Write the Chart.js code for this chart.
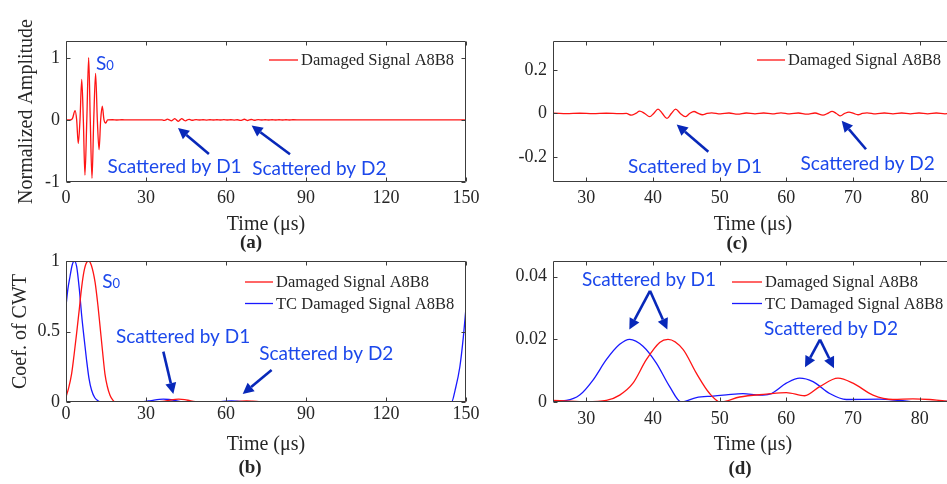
<!DOCTYPE html>
<html>
<head>
<meta charset="utf-8">
<script src="https://cdn.jsdelivr.net/npm/chart.js@4.4.1/dist/chart.umd.min.js"></script>
<style>
  html, body { margin: 0; padding: 0; background: #fff; overflow: hidden; }
  #wrap { position: relative; width: 947px; height: 484px; overflow: hidden; }
  canvas { position: absolute; left: 0; top: 0; }
</style>
</head>
<body>
<div id="wrap">
  <canvas id="chart-a" width="960" height="484"></canvas>
  <canvas id="chart-b" width="960" height="484"></canvas>
  <canvas id="chart-c" width="960" height="484"></canvas>
  <canvas id="chart-d" width="960" height="484"></canvas>
</div>
<script>
// raw signal (normalized amplitude vs time in us)
const rawTime = [
  0, 1.5, 2.4, 3.4, 4.0, 4.6, 5.25, 5.9, 6.5, 7.1, 7.8, 8.5, 9.1, 9.75, 10.4, 11.1, 11.75, 12.4, 13.0, 13.6,
  14.25, 14.9, 15.6, 17.5, 19, 21, 23, 25, 27, 29, 31, 33, 35, 36, 36.75, 37.4, 38, 38.75, 39.5, 40.1,
  40.75, 41.4, 42.1, 42.75, 43.4, 44.1, 44.85, 45.5, 46.15, 46.8, 47.4, 48.1, 48.8, 50.1, 51.4, 52.7, 54, 55.3, 56.6, 57.9,
  59.2, 60.5, 61.8, 63.1, 64.3, 65.5, 66.2, 66.85, 67.5, 68.1, 68.75, 69.4, 70.1, 70.75, 71.4, 72.1, 73.4, 74.7, 76, 77.3,
  78.6, 79.9, 81.2, 82.5, 83.8, 85.1, 88, 92, 96, 100, 105, 110, 115, 120, 125, 130, 135, 140, 145, 150,
];
const rawAmp = [
  0, 0, 0.02, 0.15, 0, -0.38, 0, 0.65, 0, -0.89, 0, 1.0, 0, -0.94, 0, 0.75, 0, -0.48, 0, 0.22,
  0, -0.05, 0, 0.002, -0.002, 0.002, -0.001, 0.001, -0.001, 0.001, -0.001, 0.001, -0.001, 0, -0.008, 0, 0.011, 0, -0.015, 0,
  0.02, 0, -0.023, 0, 0.02, 0, -0.015, 0, 0.009, 0, -0.006, 0, 0.003, -0.002, 0.002, -0.003, 0.002, -0.002, 0.002, -0.002,
  0.003, -0.002, 0.002, -0.003, 0.002, -0.008, 0, 0.01, 0, -0.011, 0, 0.006, 0, -0.006, 0, 0.003, -0.002, 0.002, -0.002, 0.002,
  -0.002, 0.002, -0.002, 0.002, -0.002, 0.002, -0.001, 0.001, -0.001, 0.001, -0.001, 0.001, -0.001, 0.001, -0.001, 0.001, -0.001, 0.001, 0, 0,
];

// CWT coefficient, damaged signal
const cwtRedTime = [
  0, 1, 2.1, 3, 4, 5, 5.6, 6.5, 7.5, 8.5, 9.5, 10.9, 12, 12.75, 13.7, 14.6, 15.5, 16.5, 17.5, 18.5,
  20, 22.5, 25, 30, 33, 35, 37, 39, 41, 42.25, 44.5, 46.5, 48.5, 50.1, 53, 57, 60, 62.75, 65, 67.75,
  70, 73, 76, 79, 81.5, 84, 87, 95, 110, 130, 140, 150,
];
const cwtRedCoef = [
  0.036, 0.1, 0.2, 0.33, 0.49, 0.66, 0.77, 0.9, 0.98, 1.0, 0.97, 0.85, 0.68, 0.54, 0.36, 0.2, 0.11, 0.048, 0.015, 0,
  0.0003, 0.0005, 0.0005, 0.0001, 0.0005, 0.0022, 0.006, 0.0135, 0.019, 0.02, 0.0168, 0.0092, 0.0027, 0, 0.0016, 0.0025, 0.003, 0.002, 0.0049, 0.0076,
  0.006, 0.0022, 0.0008, 0.001, 0.0008, 0.0003, 0.0003, 0.0002, 0.0001, 0.0001, 0, 0,
];

// CWT coefficient, time-compensated damaged signal
const cwtBlueTime = [
  0, 0.7, 1.5, 2.3, 3.1, 4, 5, 5.9, 6.8, 7.7, 8.6, 9.6, 10.8, 12.1, 13.4, 18, 22, 25, 27, 29,
  31, 33, 35, 36.5, 38.5, 40.5, 42.5, 44.25, 46.5, 49, 51, 53.5, 56, 57.5, 60, 62, 64, 66.5, 69, 74,
  77, 80, 84, 87, 100, 130, 144.6, 145.9, 147.7, 149, 150,
];
const cwtBlueCoef = [
  0.68, 0.8, 0.89, 0.97, 1.0, 0.96, 0.8, 0.61, 0.45, 0.3, 0.17, 0.083, 0.03, 0.007, 0, 0.0003, 0.0002, 0.0003, 0.0005, 0.0022,
  0.007, 0.0135, 0.0184, 0.02, 0.0178, 0.0124, 0.0049, 0, 0.0014, 0.0019, 0.0023, 0.0027, 0.0022, 0.0025, 0.006, 0.0076, 0.0065, 0.0027, 0.0008, 0.0009,
  0.0005, 0, 0.0002, 0.0002, 0.0001, 0.0001, 0, 0.083, 0.25, 0.46, 0.67,
];

const seriesLabels = ['Damaged Signal A8B8', 'TC Damaged Signal A8B8'];
const wideTicks = [0, 30, 60, 90, 120, 150];
const zoomTicks = [30, 40, 50, 60, 70, 80];
const ampTicks = [-1, 0, 1];
const ampZoomTicks = [-0.2, 0, 0.2];
const cwtTicks = [0, 0.5, 1];
const cwtZoomTicks = [0, 0.02, 0.04];

const CANVAS_W = 960;
const CANVAS_H = 484;
const RED = 'rgb(255, 20, 20)';
const BLUE = 'rgb(25, 25, 255)';
const INK = '#262626';
const NOTE = 'rgb(28, 72, 235)';
const ARROW = 'rgb(8, 40, 185)';
const SERIF = '"Liberation Serif", "Times New Roman", serif';

Chart.defaults.font.family = SERIF;
Chart.defaults.color = INK;

const zip = (xs, ys) => xs.map((x, i) => ({ x, y: ys[i] }));

function lineSet(label, xs, ys, color) {
  return {
    label,
    data: zip(xs, ys),
    borderColor: color,
    borderWidth: 1.3,
    pointRadius: 0,
    fill: false,
    cubicInterpolationMode: 'monotone',
  };
}

function drawArrow(ctx, x0, y0, x1, y1) {
  const ang = Math.atan2(y1 - y0, x1 - x0);
  const hl = 11, hw = 5.5;
  const bx = x1 - hl * Math.cos(ang);
  const by = y1 - hl * Math.sin(ang);
  ctx.beginPath();
  ctx.moveTo(x0, y0);
  ctx.lineTo(bx, by);
  ctx.stroke();
  ctx.beginPath();
  ctx.moveTo(x1, y1);
  ctx.lineTo(bx + hw * Math.sin(ang), by - hw * Math.cos(ang));
  ctx.lineTo(bx - hw * Math.sin(ang), by + hw * Math.cos(ang));
  ctx.closePath();
  ctx.fill();
}

// box with inward ticks, legend, blue notes, arrows and panel tag
const panelDecor = {
  id: 'panelDecor',
  afterDraw(chart, args, opts) {
    const { ctx, chartArea: a, scales: { x, y } } = chart;
    const px = (t) => x.getPixelForValue(t);
    const py = (v) => y.getPixelForValue(v);
    ctx.save();

    const L = Math.round(a.left) + 0.5, R = Math.round(a.right) - 0.5;
    const T = Math.round(a.top) + 0.5, B = Math.round(a.bottom) - 0.5;
    ctx.strokeStyle = '#3c3c3c';
    ctx.lineWidth = 1;
    ctx.beginPath();
    ctx.rect(L, T, R - L, B - T);
    x.ticks.forEach((tk) => {
      const p = Math.round(px(tk.value)) + 0.5;
      ctx.moveTo(p, B); ctx.lineTo(p, B - 4);
      ctx.moveTo(p, T); ctx.lineTo(p, T + 4);
    });
    y.ticks.forEach((tk) => {
      const p = Math.round(py(tk.value)) + 0.5;
      ctx.moveTo(L, p); ctx.lineTo(L + 4, p);
      ctx.moveTo(R, p); ctx.lineTo(R - 4, p);
    });
    ctx.stroke();

    const lg = opts.legend;
    ctx.font = '16.5px ' + SERIF;
    ctx.textAlign = 'left';
    ctx.textBaseline = 'middle';
    chart.data.datasets.forEach((ds, i) => {
      const ly = lg.y + i * lg.gap;
      ctx.strokeStyle = ds.borderColor;
      ctx.lineWidth = 1.3;
      ctx.beginPath();
      ctx.moveTo(lg.x, ly);
      ctx.lineTo(lg.x + lg.len, ly);
      ctx.stroke();
      ctx.fillStyle = INK;
      ctx.fillText(ds.label, lg.x + lg.len + 3, ly + 1);
    });

    ctx.fillStyle = NOTE;
    ctx.textBaseline = 'alphabetic';
    ctx.textAlign = 'center';
    ctx.font = '19px Lato';
    (opts.notes || []).forEach((n) => ctx.fillText(n.text, px(n.t), py(n.v)));

    if (opts.sZero) {
      ctx.textAlign = 'left';
      ctx.font = '19px Lato';
      const wS = ctx.measureText('S').width;
      ctx.font = '13px Lato';
      const w0 = ctx.measureText('0').width;
      const sx = px(opts.sZero.t) - (wS + w0) / 2;
      const sy = py(opts.sZero.v);
      ctx.font = '19px Lato';
      ctx.fillText('S', sx, sy);
      ctx.font = '13px Lato';
      ctx.fillText('0', sx + wS, sy);
    }

    ctx.strokeStyle = ARROW;
    ctx.fillStyle = ARROW;
    ctx.lineWidth = 2.6;
    (opts.arrows || []).forEach((ar) => {
      drawArrow(ctx, px(ar.from[0]), py(ar.from[1]), px(ar.to[0]), py(ar.to[1]));
    });

    ctx.fillStyle = INK;
    ctx.font = 'bold 19px ' + SERIF;
    ctx.textAlign = 'center';
    ctx.textBaseline = 'middle';
    ctx.fillText(opts.tag.text, opts.tag.x, opts.tag.y);
    ctx.restore();
  },
};

function makePanel(id, p) {
  return new Chart(document.getElementById(id), {
    type: 'line',
    data: { datasets: p.datasets },
    options: {
      responsive: false,
      animation: false,
      events: [],
      layout: {
        padding: {
          left: p.area.padLeft,
          top: p.area.top,
          right: CANVAS_W - p.area.right,
          bottom: CANVAS_H - p.area.bottom - p.area.xHeight,
        },
      },
      scales: {
        x: {
          type: 'linear',
          min: p.xRange[0],
          max: p.xRange[1],
          afterBuildTicks: (s) => { s.ticks = p.xTicks.map((value) => ({ value })); },
          afterFit: (s) => { s.height = p.area.xHeight; },
          grid: { display: false, drawTicks: false },
          border: { display: false },
          ticks: { padding: p.xTickPad, maxRotation: 0, autoSkip: false, font: { size: 18 }, color: INK, callback: (v) => String(v) },
          title: { display: true, text: 'Time (μs)', font: { size: 20 }, color: INK, padding: { top: 0, bottom: p.xTitlePad } },
        },
        y: {
          type: 'linear',
          min: p.yRange[0],
          max: p.yRange[1],
          afterBuildTicks: (s) => { s.ticks = p.yTicks.map((value) => ({ value })); },
          afterFit: (s) => { s.width = p.area.left - p.area.padLeft; },
          grid: { display: false, drawTicks: false },
          border: { display: false },
          ticks: { padding: 6, autoSkip: false, font: { size: 18 }, color: INK, callback: (v) => String(v) },
          title: {
            display: Boolean(p.yTitle),
            text: p.yTitle || '',
            font: { size: 20 },
            color: INK,
            padding: { top: p.yTitlePad || 0, bottom: 0 },
          },
        },
      },
      plugins: {
        legend: { display: false },
        tooltip: { enabled: false },
        panelDecor: p.decor,
      },
    },
    plugins: [panelDecor],
  });
}

const rawSet = () => [lineSet(seriesLabels[0], rawTime, rawAmp, RED)];
const cwtSets = () => [
  lineSet(seriesLabels[0], cwtRedTime, cwtRedCoef, RED),
  lineSet(seriesLabels[1], cwtBlueTime, cwtBlueCoef, BLUE),
];

makePanel('chart-a', {
  area: { padLeft: 0, left: 66, top: 41, right: 466, bottom: 182, xHeight: 58 },
  xRange: [0, 150], yRange: [-1, 1.27], xTicks: wideTicks, yTicks: ampTicks,
  xTickPad: 5, xTitlePad: 3, yTitle: 'Normalized Amplitude', yTitlePad: 15,
  datasets: rawSet(),
  decor: {
    legend: { x: 269, y: 60, len: 29, gap: 21.5 },
    sZero: { t: 14.6, v: 0.806 },
    notes: [
      { text: 'Scattered by D1', t: 40.7, v: -0.855 },
      { text: 'Scattered by D2', t: 95.0, v: -0.887 },
    ],
    arrows: [
      { from: [53.6, -0.548], to: [42.0, -0.129] },
      { from: [84.0, -0.553], to: [69.6, -0.092] },
    ],
    tag: { text: '(a)', x: 251, y: 243 },
  },
});

makePanel('chart-b', {
  area: { padLeft: 0, left: 66, top: 261, right: 466, bottom: 402, xHeight: 60 },
  xRange: [0, 150], yRange: [0, 1], xTicks: wideTicks, yTicks: cwtTicks,
  xTickPad: 1.5, xTitlePad: 5, yTitle: 'Coef. of CWT', yTitlePad: 9,
  datasets: cwtSets(),
  decor: {
    legend: { x: 245, y: 282, len: 28, gap: 21.5 },
    sZero: { t: 16.9, v: 0.809 },
    notes: [
      { text: 'Scattered by D1', t: 43.9, v: 0.416 },
      { text: 'Scattered by D2', t: 97.6, v: 0.298 },
    ],
    arrows: [
      { from: [36.5, 0.357], to: [40.25, 0.057] },
      { from: [77.1, 0.227], to: [66.25, 0.057] },
    ],
    tag: { text: '(b)', x: 250, y: 468 },
  },
});

makePanel('chart-c', {
  area: { padLeft: 480, left: 553, top: 41, right: 953, bottom: 182, xHeight: 58 },
  xRange: [25, 85], yRange: [-0.316, 0.334], xTicks: zoomTicks, yTicks: ampZoomTicks,
  xTickPad: 5, xTitlePad: 3,
  datasets: rawSet(),
  decor: {
    legend: { x: 757, y: 60, len: 28, gap: 21.5 },
    notes: [
      { text: 'Scattered by D1', t: 46.3, v: -0.274 },
      { text: 'Scattered by D2', t: 72.2, v: -0.262 },
    ],
    arrows: [
      { from: [48.3, -0.177], to: [43.55, -0.051] },
      { from: [71.95, -0.165], to: [68.3, -0.034] },
    ],
    tag: { text: '(c)', x: 737, y: 244 },
  },
});

makePanel('chart-d', {
  area: { padLeft: 480, left: 553, top: 261, right: 953, bottom: 402, xHeight: 60 },
  xRange: [25, 85], yRange: [0, 0.045], xTicks: zoomTicks, yTicks: cwtZoomTicks,
  xTickPad: 6, xTitlePad: 5,
  datasets: cwtSets(),
  decor: {
    legend: { x: 732, y: 282, len: 30, gap: 21.5 },
    notes: [
      { text: 'Scattered by D1', t: 39.4, v: 0.0371 },
      { text: 'Scattered by D2', t: 66.7, v: 0.0215 },
    ],
    arrows: [
      { from: [39.55, 0.0355], to: [36.45, 0.0231] },
      { from: [39.55, 0.0355], to: [42.15, 0.0231] },
      { from: [65.05, 0.0199], to: [62.8, 0.0111] },
      { from: [65.05, 0.0199], to: [67.15, 0.0108] },
    ],
    tag: { text: '(d)', x: 740, y: 469 },
  },
});
</script>
</body>
</html>
